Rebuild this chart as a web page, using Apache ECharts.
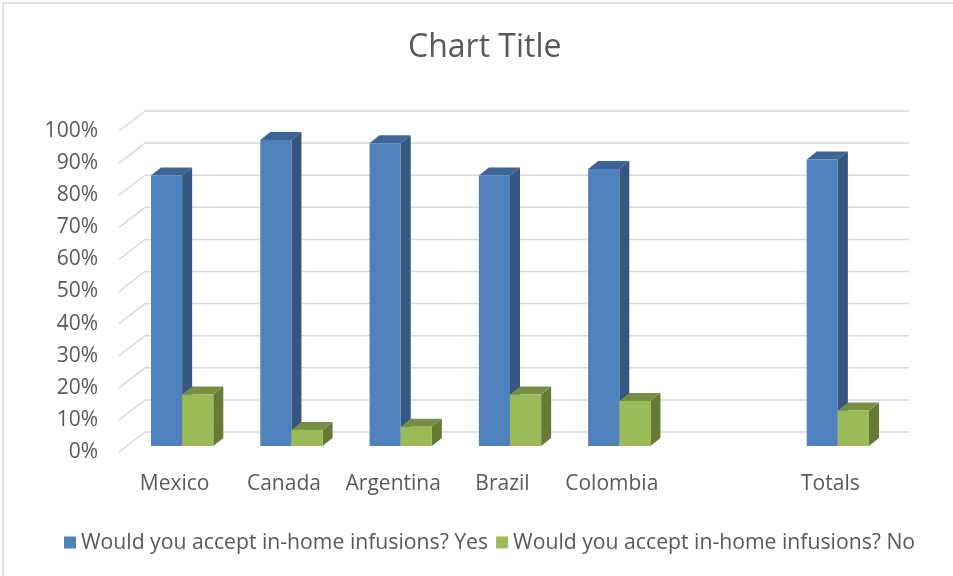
<!DOCTYPE html>
<html>
<head>
<meta charset="utf-8">
<style>
  html, body { margin: 0; padding: 0; background: #fff; }
  #chart { width: 953px; height: 576px; }
</style>
<script src="https://cdn.jsdelivr.net/npm/echarts@6/dist/echarts.min.js"></script>
</head>
<body>
<div id="chart"></div>
<script>
// categories (the empty one is the gap before Totals)
var categories = ['Mexico', 'Canada', 'Argentina', 'Brazil', 'Colombia', '', 'Totals'];
var yesValues = [0.84, 0.95, 0.94, 0.84, 0.86, null, 0.89];
var noValues  = [0.16, 0.05, 0.06, 0.16, 0.14, null, 0.11];
var yTicks = [0, 0.1, 0.2, 0.3, 0.4, 0.5, 0.6, 0.7, 0.8, 0.9, 1];
var yesName = 'Would you accept in-home infusions? Yes';
var noName = 'Would you accept in-home infusions? No';

var textColor = '#595959';
var fontFamily = '"Open Sans", Lato, sans-serif';

/* 把数值数组转成 [类目下标, 值]，空值跳过 */
function toPairs(arr) {
    var out = [];
    for (var i = 0; i < arr.length; i++) {
        if (arr[i] !== null) out.push([i, arr[i]]);
    }
    return out;
}

/* 画一个带侧面和顶面的"3D"柱子 */
function barRenderer(slot, colors) {
    return function (params, api) {
        var idx = api.value(0);
        var top = api.coord([idx, api.value(1)]);
        var base = api.coord([idx, 0]);
        var band = api.size([1, 0])[0];
        var w = band * 0.285;
        var dx = 10, dy = -8;
        var x0 = top[0] - w + slot * w;
        var x1 = x0 + w;
        var yt = top[1], yb = base[1];
        return {
            type: 'group',
            children: [
                {
                    type: 'polygon',
                    shape: { points: [[x1, yt], [x1 + dx, yt + dy], [x1 + dx, yb + dy], [x1, yb]] },
                    style: { fill: colors.side }
                },
                {
                    type: 'polygon',
                    shape: { points: [[x0, yt], [x0 + dx, yt + dy], [x1 + dx, yt + dy], [x1, yt]] },
                    style: { fill: colors.top }
                },
                {
                    type: 'rect',
                    shape: { x: x0, y: yt, width: w, height: yb - yt },
                    style: { fill: colors.front }
                }
            ]
        };
    };
}

/* 背景网格线 + 左侧斜线 */
function wallRenderer(params, api) {
    var v = api.value(0);
    var p0 = api.coord([0, v]);
    var p2 = api.coord([1, v]);
    return {
        type: 'polyline',
        shape: { points: [[p0[0], p0[1]], [p0[0] + 26, p0[1] - 20], [p2[0], p0[1] - 20]] },
        style: { stroke: '#d9d9d9', lineWidth: 1.5, fill: null }
    };
}

var chart = echarts.init(document.getElementById('chart'));
var option = {
    backgroundColor: '#fff',
    animation: false,
    title: {
        text: 'Chart Title',
        left: 403,
        top: 27,
        textStyle: { color: textColor, fontSize: 32, fontWeight: 'normal', fontFamily: fontFamily }
    },
    legend: {
        bottom: 18,
        left: 59,
        icon: 'rect',
        itemWidth: 12,
        itemHeight: 12,
        itemGap: 8,
        textStyle: { color: textColor, fontSize: 21.2, fontFamily: fontFamily },
        data: [yesName, noName]
    },
    graphic: [{
        type: 'rect',
        shape: { x: 3, y: 3, width: 1000, height: 1000 },
        style: { fill: null, stroke: '#d9d9d9', lineWidth: 1.5 },
        silent: true
    }],
    grid: [
        { left: 127.5, right: 60.5, top: 124, bottom: 130 },
        { left: 119, right: 44, top: 131, bottom: 124 },
        { left: 120, right: 68, top: 124, bottom: 130 }
    ],
    xAxis: [
        {
            type: 'category',
            gridIndex: 0,
            data: categories,
            show: false
        },
        { type: 'value', gridIndex: 1, min: 0, max: 1, show: false },
        {
            type: 'category',
            gridIndex: 2,
            data: categories,
            axisLine: { show: false },
            axisTick: { show: false },
            axisLabel: { interval: 0, color: textColor, fontSize: 21, fontFamily: fontFamily, margin: 28 }
        }
    ],
    yAxis: [
        { type: 'value', gridIndex: 0, min: 0, max: 1, show: false },
        {
            type: 'value',
            gridIndex: 1,
            min: 0,
            max: 1,
            interval: 0.1,
            axisLine: { show: false },
            axisTick: { show: false },
            splitLine: { show: false },
            axisLabel: {
                color: textColor,
                fontSize: 21,
                fontFamily: fontFamily,
                margin: 21,
                formatter: function (v) { return Math.round(v * 100) + '%'; }
            }
        },
        { type: 'value', gridIndex: 2, min: 0, max: 1, show: false }
    ],
    series: [
        {
            name: 'wall',
            type: 'custom',
            xAxisIndex: 1,
            yAxisIndex: 1,
            silent: true,
            renderItem: wallRenderer,
            encode: { y: 0 },
            data: yTicks.map(function (v) { return [v]; }),
            z: 1
        },
        {
            name: yesName,
            type: 'custom',
            xAxisIndex: 0,
            yAxisIndex: 0,
            itemStyle: { color: '#4F81BD' },
            renderItem: barRenderer(0, { front: '#4F81BD', side: '#34567F', top: '#3C6497' }),
            encode: { x: 0, y: 1 },
            data: toPairs(yesValues),
            z: 2
        },
        {
            name: noName,
            type: 'custom',
            xAxisIndex: 0,
            yAxisIndex: 0,
            itemStyle: { color: '#9BBB59' },
            renderItem: barRenderer(1, { front: '#9BBB59', side: '#667A36', top: '#788F43' }),
            encode: { x: 0, y: 1 },
            data: toPairs(noValues),
            z: 3
        }
    ]
};
chart.setOption(option);
</script>
</body>
</html>
